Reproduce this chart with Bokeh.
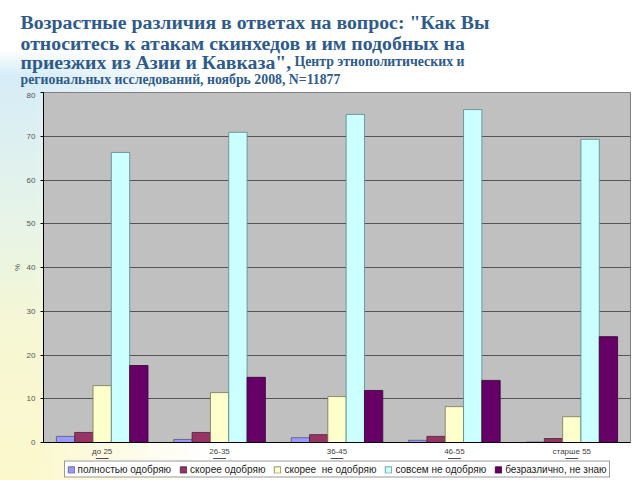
from bokeh.plotting import figure
from bokeh.models import FactorRange, Legend, LegendItem, ColumnDataSource, Range1d
from bokeh.layouts import column
from bokeh.transform import dodge
from bokeh.core.properties import value
from bokeh.embed import file_html
from bokeh.resources import INLINE

categories = ["до 25", "26-35", "36-45", "46-55", "старше 55"]
series_names = ["полностью одобряю", "скорее одобряю", "скорее  не одобряю",
                "совсем не одобряю", "безразлично, не знаю"]
full_approve = [1.4, 0.7, 1.1, 0.5, 0.1]
rather_approve = [2.3, 2.3, 1.8, 1.4, 0.9]
rather_disapprove = [13.0, 11.4, 10.5, 8.2, 5.9]
fully_disapprove = [66.3, 70.9, 75.0, 76.1, 69.3]
indifferent = [17.6, 14.9, 11.9, 14.2, 24.2]
y_ticks = [0, 10, 20, 30, 40, 50, 60, 70, 80]
title_lines = ["Возрастные различия в ответах на вопрос: \"Как Вы",
               "относитесь к атакам скинхедов и им подобных на",
               "приезжих из Азии и Кавказа\","]
subtitle_lines = ["Центр этнополитических и",
                  "региональных исследований, ноябрь 2008, N=11877"]

colors = ["#9999FF", "#993366", "#FFFFCC", "#CCFFFF", "#660066"]
outlines = ["#555577", "#442233", "#777755", "#558888", "#330033"]
title_color = "#2E5B8C"

FL, FR = 43, 630  # chart frame left/right edges on the page

# ---- title figure: its frame gets aligned to the chart frame (FL..FR),
# so the range is chosen to make x equal page pixels; text drawn unclipped ----
t = figure(width=640, height=92, x_range=Range1d(FL, FR), y_range=Range1d(92, 0),
           output_backend="svg", toolbar_location=None, min_border=0,
           min_border_left=FL, min_border_right=640 - FR,
           x_axis_location=None, y_axis_location=None)
t.grid.visible = False
t.outline_line_color = None
t.background_fill_color = None
t.border_fill_color = None
t.text(x=[20, 20, 20], y=[21, 42, 61], text=title_lines,
       text_font=value("Liberation Serif"), text_font_style="bold",
       text_font_size="19.8px", text_color=title_color, text_baseline="alphabetic",
       level="overlay")
t.text(x=[294, 20], y=[61, 79], text=subtitle_lines,
       text_font=value("Liberation Serif"), text_font_style="bold",
       text_font_size="13.8px", text_color=title_color, text_baseline="alphabetic",
       level="overlay")

# ---- chart ----
src = ColumnDataSource(dict(cat=categories, s0=full_approve, s1=rather_approve,
                            s2=rather_disapprove, s3=fully_disapprove, s4=indifferent))

p = figure(frame_width=FR - FL, frame_height=350, x_range=FactorRange(*categories, range_padding=0),
           y_range=(0, 80), output_backend="svg", toolbar_location=None,
           min_border_left=FL, min_border_right=640 - FR, min_border_top=0, min_border_bottom=16)
p.background_fill_color = "#C0C0C0"
p.border_fill_color = None
p.outline_line_color = "#808080"

w = 0.156
offsets = [-2 * w, -w, 0, w, 2 * w]
for i in range(5):
    p.vbar(x=dodge("cat", offsets[i], range=p.x_range), top="s%d" % i, width=w,
           source=src, fill_color=colors[i], line_color=outlines[i], line_width=0.8)

p.xgrid.grid_line_color = None
p.ygrid.grid_line_color = "#555555"
p.ygrid.grid_line_width = 1
p.yaxis.ticker = y_ticks
p.yaxis.major_label_text_font_size = "8px"
p.xaxis.major_label_text_font_size = "8px"
p.yaxis.major_label_text_color = "#555555"
p.xaxis.major_label_text_color = "#444444"
p.yaxis.axis_label = "%"
p.yaxis.axis_label_text_font_size = "8px"
p.yaxis.axis_label_text_font_style = "normal"
p.yaxis.axis_label_text_color = "#555555"
p.yaxis.axis_label_standoff = 2
p.xaxis.major_tick_line_color = None
p.xaxis.major_tick_out = 0
p.xaxis.major_tick_in = 0
p.yaxis.major_tick_out = 3
p.yaxis.major_tick_in = 0
p.yaxis.minor_tick_line_color = None
p.axis.axis_line_color = "black"
p.xaxis.major_label_standoff = 4

# ---- legend strip (its own small figure so nothing gets clipped);
# the swatch renderers use the same data but lie outside this strip's view ----
lg = figure(width=640, height=22, x_range=FactorRange(*categories), y_range=Range1d(-2, -1),
            output_backend="svg", toolbar_location=None, min_border=0,
            min_border_left=FL, min_border_right=640 - FR,
            x_axis_location=None, y_axis_location=None)
lg.grid.visible = False
lg.outline_line_color = None
lg.background_fill_color = None
lg.border_fill_color = None
swatches = []
for i in range(5):
    swatches.append(lg.vbar(x="cat", top="s%d" % i, width=0.1, source=src,
                            fill_color=colors[i], line_color=outlines[i], line_width=0.8))

legend = Legend(items=[LegendItem(label=series_names[i], renderers=[swatches[i]]) for i in range(5)],
                orientation="horizontal", location="center")
legend.label_text_font_size = "10px"
legend.label_text_font = "Arial"
legend.label_text_color = "#222222"
legend.glyph_width = 8
legend.glyph_height = 8
legend.label_standoff = 3
legend.spacing = 8
legend.padding = 2
legend.margin = 0
legend.border_line_color = "#333333"
legend.background_fill_color = "white"
legend.label_height = 9
lg.add_layout(legend)

layout = column(t, p, lg, spacing=0, styles={
    "background": "linear-gradient(to right, rgba(255,255,255,0) 0px, rgba(255,255,255,0) 30px, #ffffff 210px), "
                  "linear-gradient(to bottom, #ffffff 0px, #ffffff 50px, #d6ecf8 75px, #e4f3ea 200px, #f6f7d4 330px, #fcf8cc 480px)"
})
open("out.html", "w").write(file_html(layout, INLINE))
